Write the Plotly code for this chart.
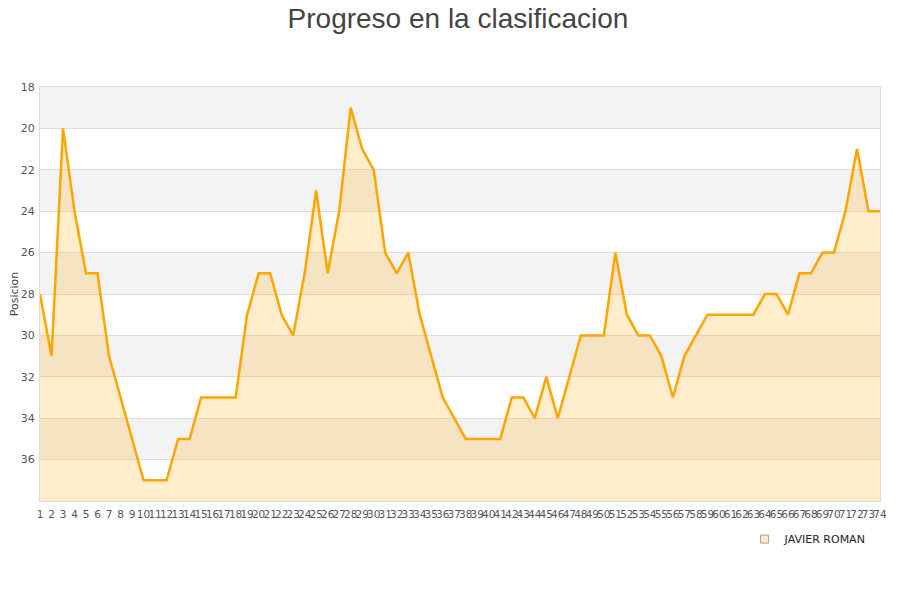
import plotly.graph_objects as go

# Data
jornadas = list(range(1, 75))
posicion = [28, 31, 20, 24, 27, 27, 31, 33, 35, 37,
            37, 37, 35, 35, 33, 33, 33, 33, 29, 27,
            27, 29, 30, 27, 23, 27, 24, 19, 21, 22,
            26, 27, 26, 29, 31, 33, 34, 35, 35, 35,
            35, 33, 33, 34, 32, 34, 32, 30, 30, 30,
            26, 29, 30, 30, 31, 33, 31, 30, 29, 29,
            29, 29, 29, 28, 28, 29, 27, 27, 26, 26,
            24, 21, 24, 24]
y_ticks = [18, 20, 22, 24, 26, 28, 30, 32, 34, 36]
jugador = 'JAVIER ROMAN'
y_top, y_bottom = 18, 38

fig = go.Figure()

# invisible baseline at the bottom of the axis so the area fills downwards
fig.add_trace(go.Scatter(x=jornadas, y=[y_bottom] * len(jornadas), mode='lines',
                         line=dict(width=0), hoverinfo='skip', showlegend=False))
fig.add_trace(go.Scatter(x=jornadas, y=posicion, mode='lines', fill='tonexty',
                         fillcolor='rgba(255,165,0,0.2)',
                         line=dict(color='#FFA500', width=2.5),
                         name=jugador, showlegend=False))
# legend entry only
fig.add_trace(go.Scatter(x=[None], y=[None], mode='markers', name=jugador,
                         marker=dict(symbol='square', size=8, color='#FFEBC8',
                                     line=dict(color='#B0A080', width=1))))

# alternating grey bands
for lo in range(y_top, y_bottom, 4):
    fig.add_shape(type='rect', xref='paper', yref='y', x0=0, x1=1, y0=lo, y1=lo + 2,
                  fillcolor='#F3F3F3', line=dict(width=0), layer='below')

# the page adds an 8px body margin, so margins are shifted to keep the plot in place
fig.update_layout(
    width=900, height=600,
    title=dict(text='Progreso en la clasificacion', x=0.5, xanchor='center',
               y=1, yanchor='top', pad=dict(t=0),
               font=dict(family='Liberation Sans, Arial, sans-serif', size=28, color='#444444')),
    paper_bgcolor='white', plot_bgcolor='white',
    margin=dict(l=32, r=28, t=79, b=107, autoexpand=False),
    font=dict(family='DejaVu Sans, sans-serif', size=11, color='#555555'),
    legend=dict(x=0.99, xanchor='right', y=-0.092, yanchor='middle', orientation='h',
                itemwidth=30,
                font=dict(family='DejaVu Sans, sans-serif', size=11, color='#222222')),
)
fig.update_xaxes(range=[1, 74], tickmode='linear', tick0=1, dtick=1, tickangle=0,
                 showgrid=False, zeroline=False, showline=True, linecolor='#DDDDDD',
                 mirror=True, ticks='', automargin=False, ticklabelstandoff=3,
                 tickfont=dict(size=10.5, color='#555555'))
fig.update_yaxes(range=[y_bottom, y_top], tickmode='array', tickvals=y_ticks,
                 showgrid=True, gridcolor='#DDDDDD', zeroline=False, showline=True,
                 linecolor='#DDDDDD', mirror=True, ticks='', automargin=False,
                 ticklabelstandoff=2,
                 title=dict(text='Posicion', font=dict(size=11, color='#444444'), standoff=2),
                 tickfont=dict(size=11, color='#555555'))

fig.write_html('out.html')
